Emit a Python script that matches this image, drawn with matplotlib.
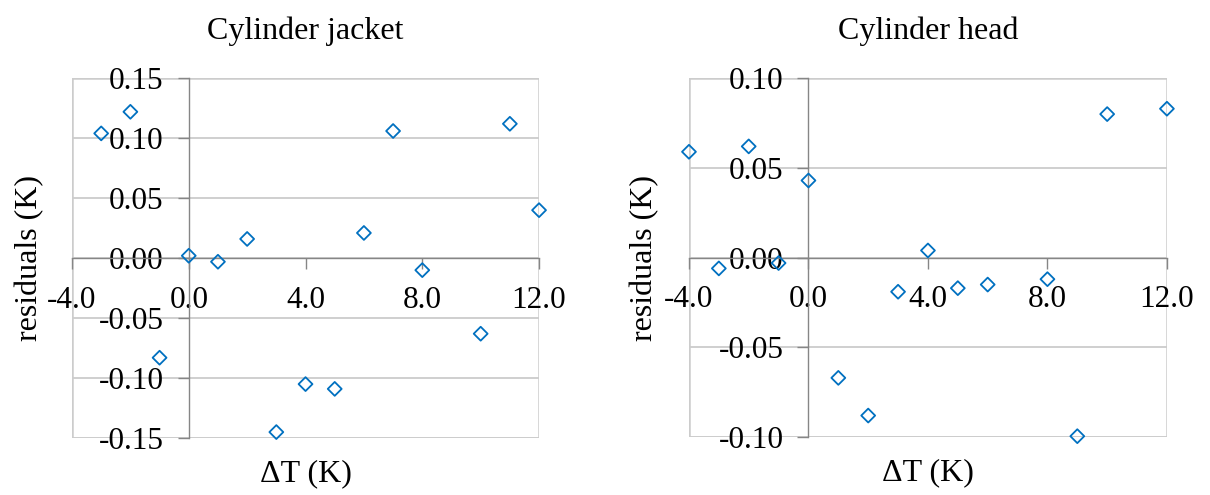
import matplotlib.pyplot as plt

plt.rcParams['font.family'] = ['Liberation Serif', 'DejaVu Serif']

# residuals of the fit for each temperature step
dT_jacket = [-3, -2, -1, 0, 1, 2, 3, 4, 5, 6, 7, 8, 10, 11, 12]
res_jacket = [0.104, 0.122, -0.083, 0.002, -0.003, 0.016, -0.145, -0.105,
              -0.109, 0.021, 0.106, -0.010, -0.063, 0.112, 0.040]

dT_head = [-4, -3, -2, -1, 0, 1, 2, 3, 4, 5, 6, 8, 9, 10, 12]
res_head = [0.059, -0.006, 0.062, -0.003, 0.043, -0.067, -0.088, -0.019,
            0.004, -0.017, -0.015, -0.012, -0.0995, 0.080, 0.083]

xticks = [-4.0, 0.0, 4.0, 8.0, 12.0]
yticks_jacket = [-0.15, -0.10, -0.05, 0.00, 0.05, 0.10, 0.15]
yticks_head = [-0.10, -0.05, 0.00, 0.05, 0.10]

fs = 22.5
blue = '#0070C0'
axis_col = '#868686'
grid_col = '#cccccc'

fig = plt.figure(figsize=(12.1, 4.95), dpi=100)
ax1 = fig.add_axes([0.0595, 0.115, 0.386, 0.727])
ax2 = fig.add_axes([0.5694, 0.117, 0.395, 0.725])


def style(ax, x, y, yticks, title, tx):
    ax.scatter(x, y, marker='D', s=50, facecolors='none', edgecolors=blue,
               linewidths=1.3, zorder=5, clip_on=False)
    ax.set_xlim(-4, 12)
    ax.set_ylim(yticks[0], yticks[-1])
    ax.set_xticks(xticks)
    ax.set_xticklabels(['%.1f' % v for v in xticks])
    ax.set_yticks(yticks)
    ax.set_yticklabels(['%.2f' % v for v in yticks])

    # axes cross at zero, Excel style
    for s in ['top', 'right']:
        ax.spines[s].set_visible(False)
    ax.spines['left'].set_position(('data', 0))
    ax.spines['bottom'].set_position(('data', 0))
    ax.spines['left'].set_color(axis_col)
    ax.spines['bottom'].set_color(axis_col)
    ax.spines['left'].set_linewidth(1.0)
    ax.spines['bottom'].set_linewidth(1.0)

    ax.yaxis.grid(True, color=grid_col, linewidth=1.3)
    ax.set_axisbelow(True)
    ax.axvline(-4, color=grid_col, linewidth=1.8, zorder=0)
    ax.axvline(12, color=grid_col, linewidth=1.8, zorder=0)
    ax.axhline(yticks[0], color=grid_col, linewidth=1.8, zorder=0)
    ax.axhline(yticks[-1], color=grid_col, linewidth=1.8, zorder=0)

    ax.tick_params(axis='both', direction='out', length=8, width=1.0,
                   color=axis_col, labelsize=fs, labelcolor='black')
    ax.tick_params(axis='y', pad=10)
    ax.tick_params(axis='x', pad=12)

    ax.set_title(title, fontsize=23, pad=28)
    ax.set_ylabel('residuals (K)', fontsize=23)
    ax.yaxis.set_label_coords(tx, 0.5)
    ax.set_xlabel('ΔT (K)', fontsize=23)
    ax.xaxis.set_label_coords(0.5, -0.06)


style(ax1, dT_jacket, res_jacket, yticks_jacket, 'Cylinder jacket', -0.06)
style(ax2, dT_head, res_head, yticks_head, 'Cylinder head', -0.062)

fig.savefig('out.png', dpi=100)
